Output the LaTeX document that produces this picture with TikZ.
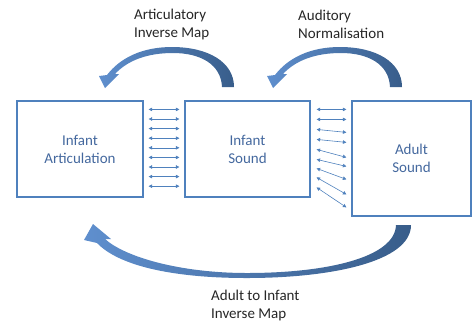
\documentclass[tikz,border=0pt]{standalone}
\usepackage{fontspec}
\setmainfont{Carlito}
\usetikzlibrary{arrows.meta}

\definecolor{boxblue}{RGB}{79,129,189}
\definecolor{textblue}{RGB}{68,104,158}
\definecolor{arcdark}{RGB}{56,93,138}
\definecolor{arclight}{RGB}{95,143,206}

\begin{document}
\begin{tikzpicture}[
  x=1pt, y=-1pt,
  >={Triangle[length=3.5pt,width=3.5pt]},
  box/.style={draw=boxblue, line width=1.2pt, align=center, text=textblue,
              font=\fontsize{15}{18}\selectfont, inner sep=0pt},
  lab/.style={align=left, anchor=west, inner sep=0pt, text=black!85,
              font=\fontsize{15}{18}\selectfont},
  link/.style={<->, draw=boxblue, line width=0.6pt},
  bigarc/.style={left color=arclight, right color=arcdark, draw=none},
]
\useasboundingbox (0,0) rectangle (473,325);

% ------------------------------------------------------------------
% the three boxes
% ------------------------------------------------------------------
\node[box, minimum width=126pt, minimum height=96pt]  (art)  at (80,149)    {Infant\\Articulation};
\node[box, minimum width=125pt, minimum height=96pt]  (isnd) at (247.5,149) {Infant\\Sound};
\node[box, minimum width=119pt, minimum height=115pt] (asnd) at (411.5,158.5) {Adult\\Sound};

% ------------------------------------------------------------------
% small links between the boxes
% ------------------------------------------------------------------
\foreach \i in {0,...,8}
  \draw[link] ([xshift=5pt,yshift=-9pt-\i*9.6pt]art.north east)
           -- ([xshift=-5pt,yshift=-9pt-\i*9.6pt]isnd.north west);

\foreach \a/\b in {9/9, 19/19, 29/32, 39/42, 49/57, 59/66, 68/79, 77/94, 87/107}
  \draw[link] ([xshift=6pt,yshift=-\a pt]isnd.north east)
           -- ([xshift=-5pt,yshift=-\b pt]asnd.north west);

% ------------------------------------------------------------------
% curved arrows on top
% ------------------------------------------------------------------
\foreach \dx in {0,168}
  \shade[bigarc, xshift=\dx pt]
    (234,87) .. controls (234,62) and (208,47) .. (172,47)
             .. controls (142,47) and (120,58) .. (107,75)
    -- (99,76) -- (105,88) -- (119,74) -- (115,74)
             .. controls (128,60) and (148,53) .. (173,53)
             .. controls (200,53) and (221,64) .. (222,87) -- cycle;

% curved arrow below
\shade[bigarc]
  (411,225) .. controls (411,262) and (330,278) .. (247,278)
            .. controls (170,278) and (118,265) .. (97,243)
  -- (84,240) -- (93,224) -- (111,239) -- (105,239)
            .. controls (125,257) and (180,273) .. (247,273)
            .. controls (325,273) and (395,258) .. (396,225) -- cycle;

% labels of the maps
\node[lab] (aim) at (134,24)  {Articulatory\\Inverse Map};
\node[lab] (anm) at (298,24)  {Auditory\\Normalisation};
\node[lab] (aiim) at (211,305) {Adult to Infant\\Inverse Map};
\end{tikzpicture}
\end{document}
